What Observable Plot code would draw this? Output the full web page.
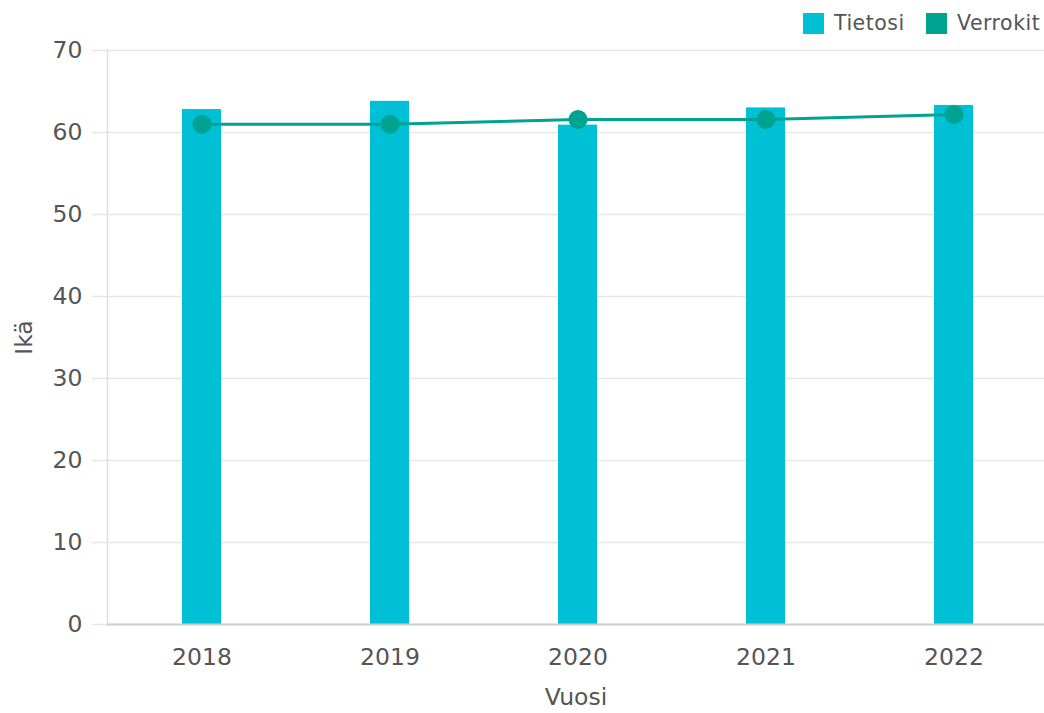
<!DOCTYPE html>
<html>
<head>
<meta charset="utf-8">
<script src="https://cdn.jsdelivr.net/npm/d3@7"></script>
<script src="https://cdn.jsdelivr.net/npm/@observablehq/plot@0.6"></script>
<style>
  html, body { margin: 0; padding: 0; background: #fff; }
  #wrap { position: relative; width: 1044px; height: 713px; font-family: "DejaVu Sans", Verdana, sans-serif; }
  .leg { position: absolute; top: 11px; display: flex; align-items: center; font-size: 20.5px; color: #555; letter-spacing: 0.5px; }
  .sw { width: 21px; height: 21px; margin-right: 10px; }
</style>
</head>
<body>
<div id="wrap">
  <div class="leg" style="left:803px"><div class="sw" style="background:#00c0d6"></div>Tietosi</div>
  <div class="leg" style="left:926px"><div class="sw" style="background:#00a391"></div>Verrokit</div>
  <div id="chart"></div>
</div>
<script>
const years = ["2018", "2019", "2020", "2021", "2022"];
const tietosi = [62.8, 63.8, 60.9, 63.0, 63.3];
const verrokit = [61.0, 61.0, 61.6, 61.6, 62.2];
const yTicks = [0, 10, 20, 30, 40, 50, 60, 70];

const data = years.map((y, i) => ({year: y, tietosi: tietosi[i], verrokit: verrokit[i]}));

const chart = Plot.plot({
  width: 1044,
  height: 713,
  marginTop: 50,
  marginBottom: 89,
  marginLeft: 107,
  marginRight: 0,
  style: {fontFamily: "DejaVu Sans, Verdana, sans-serif", fontSize: "23.5px", color: "#555", background: "#fff"},
  x: {domain: years, range: [106, 1049], paddingInner: 0.79, paddingOuter: 0.395},
  y: {domain: [0, 70]},
  marks: [
    Plot.gridY(yTicks, {stroke: "#e6e6e6", strokeOpacity: 1, strokeWidth: 1.5}),
    Plot.axisY(yTicks, {tickSize: 15, tickPadding: 10, stroke: "#e6e6e6", strokeWidth: 1.5, fill: "#555", label: "Ikä", labelAnchor: "center", labelArrow: "none", labelOffset: 92}),
    Plot.axisX({tickSize: 0, tickPadding: 24, fill: "#555", label: "Vuosi", labelAnchor: "center", labelArrow: "none", labelOffset: 80}),
    Plot.frame({anchor: "left", stroke: "#e0e0e0", strokeWidth: 1.5}),
    Plot.barY(data, {x: "year", y: "tietosi", fill: "#00c0d6"}),
    Plot.ruleY([0], {stroke: "#cfcfcf", strokeWidth: 2}),
    Plot.line(data, {x: "year", y: "verrokit", stroke: "#00a391", strokeWidth: 3}),
    Plot.dot(data, {x: "year", y: "verrokit", fill: "#00a391", r: 9.5})
  ]
});
document.getElementById("chart").appendChild(chart);
</script>
</body>
</html>
